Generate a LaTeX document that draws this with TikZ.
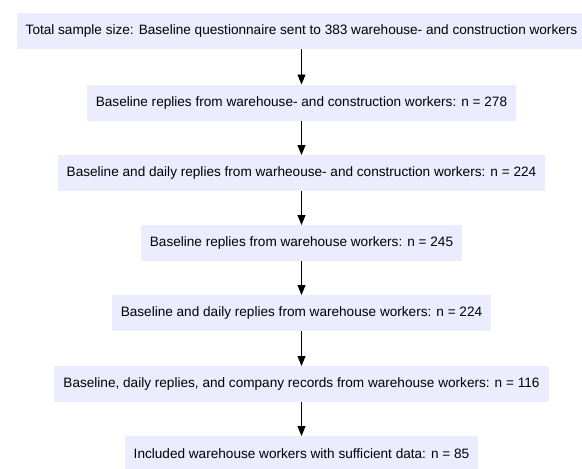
\documentclass[tikz,border=0pt]{standalone}
\usepackage{fontspec}
\setmainfont{Liberation Sans}
\usetikzlibrary{arrows.meta}
\definecolor{boxfill}{HTML}{ECECFF}
\begin{document}
\begin{tikzpicture}[x=0.75pt,y=-0.75pt,inner sep=0pt,outer sep=0pt,
flowbox/.style={fill=boxfill,rectangle,inner xsep=6.75pt,minimum height=27pt,font=\fontsize{10.2}{12}\selectfont},
flowarrow/.style={-{Triangle[width=6pt,length=7.5pt]},line width=0.7pt}]

\useasboundingbox (0,0) rectangle (582,468);

\draw (301.5,31) node[flowbox] (total) {Total sample size: Baseline questionnaire sent to 383 warehouse- and construction workers};
\draw (301.5,102.5) node[flowbox] (base) {Baseline replies from warehouse- and construction workers: n = 278};
\draw (301.5,173) node[flowbox] (daily) {Baseline and daily replies from warheouse- and construction workers: n = 224};
\draw (301.5,243) node[flowbox] (wbase) {Baseline replies from warehouse workers: n = 245};
\draw (301.5,313) node[flowbox] (wdaily) {Baseline and daily replies from warehouse workers: n = 224};
\draw (301.5,384) node[flowbox] (records) {Baseline, daily replies, and company records from warehouse workers: n = 116};
\draw (301.5,454) node[flowbox] (incl) {Included warehouse workers with sufficient data: n = 85};

\draw[flowarrow] (total.south) -- (base.north);
\draw[flowarrow] (base.south) -- (daily.north);
\draw[flowarrow] (daily.south) -- (wbase.north);
\draw[flowarrow] (wbase.south) -- (wdaily.north);
\draw[flowarrow] (wdaily.south) -- (records.north);
\draw[flowarrow] (records.south) -- (incl.north);

\end{tikzpicture}
\end{document}
